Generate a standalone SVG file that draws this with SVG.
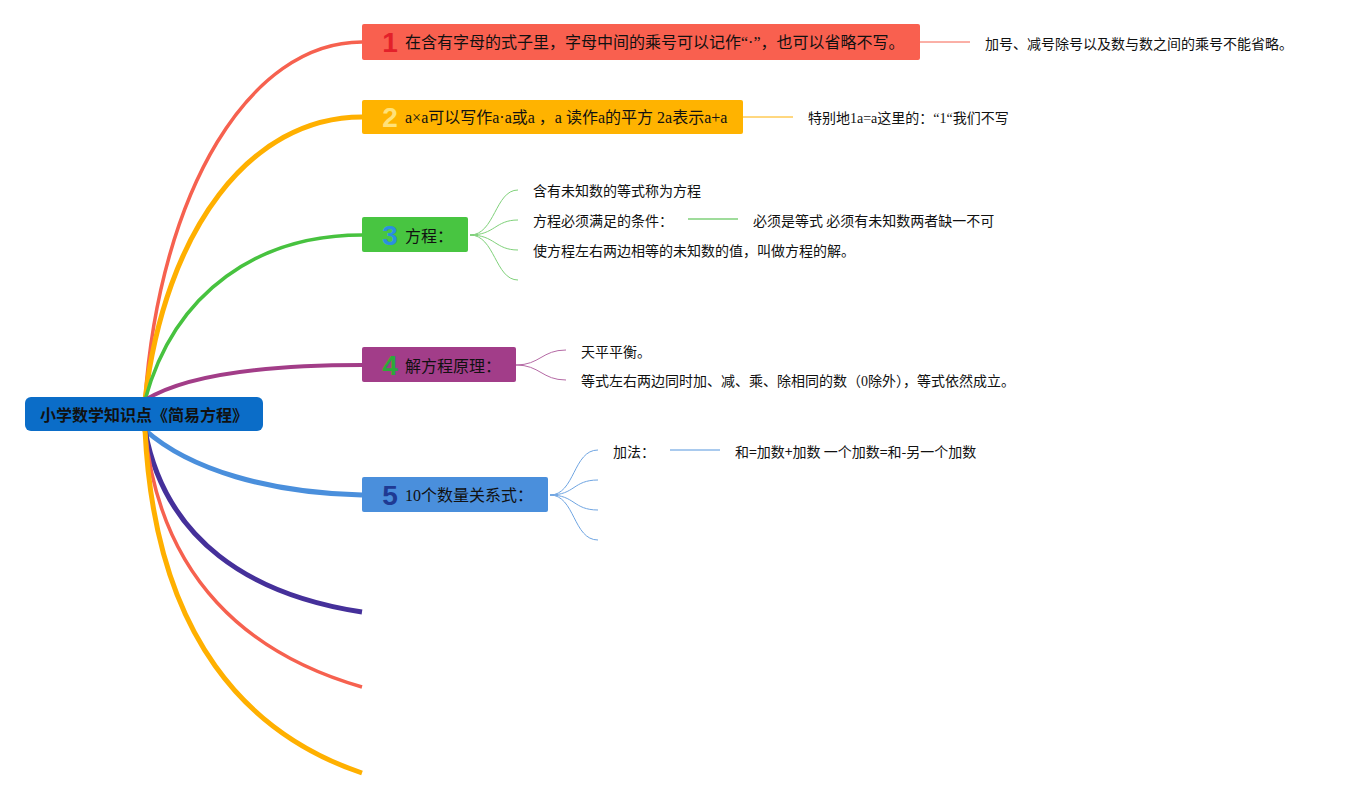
<svg xmlns="http://www.w3.org/2000/svg" width="1353" height="799" viewBox="0 0 1353 799">
<style>
.t{font-family:"Noto Sans CJK SC","Noto Sans",sans-serif;fill:#111;dominant-baseline:central}
.s{font-family:"Liberation Serif","Noto Sans CJK SC",serif;fill:#111;dominant-baseline:central}
.n16{font-size:16px}
.n14{font-size:14px}
.dg{font-family:"Liberation Sans","DejaVu Sans",sans-serif;font-weight:bold;font-size:28px;text-anchor:middle;dominant-baseline:central}
.br{fill:none;stroke-linecap:butt}
.th{fill:none;stroke-width:1}
</style>
<rect width="1353" height="799" fill="#ffffff"/>
<g id="connectors">
  <path class="br" d="M145,400 C160,190 250,42 362,42" stroke="#F6614F" stroke-width="3.5"/>
  <path class="br" d="M145,400 C165,230 250,117 362,117" stroke="#FFB000" stroke-width="5"/>
  <path class="br" d="M145,400 C175,290 260,235 362,235" stroke="#47C23F" stroke-width="3.5"/>
  <path class="br" d="M145,400 C190,372 280,365 362,365" stroke="#A23D88" stroke-width="4"/>
  <path class="br" d="M145,430 C190,470 270,493 362,495" stroke="#4A8FDC" stroke-width="5"/>
  <path class="br" d="M145,430 C165,540 250,595 362,612" stroke="#45309A" stroke-width="5"/>
  <path class="br" d="M145,430 C160,580 250,655 362,687" stroke="#F6614F" stroke-width="3.5"/>
  <path class="br" d="M145,430 C155,640 250,735 362,773" stroke="#FFB000" stroke-width="5"/>
  <line class="th" x1="920" y1="42" x2="970" y2="42" stroke="#F6614F"/>
  <line class="th" x1="743" y1="117" x2="793" y2="117" stroke="#FFB000"/>
  <path class="th" d="M470,235 C495,235 495,190 518,190" stroke="#7FD17A"/>
  <path class="th" d="M470,235 C495,235 495,220 518,220" stroke="#7FD17A"/>
  <path class="th" d="M470,235 C495,235 495,250 518,250" stroke="#7FD17A"/>
  <path class="th" d="M470,235 C495,235 495,280 518,280" stroke="#7FD17A"/>
  <line x1="688" y1="219" x2="738" y2="219" stroke="#7FD17A" stroke-width="1.5"/>
  <path class="th" d="M516,365 C540,365 542,350 566,350" stroke="#B56AA5"/>
  <path class="th" d="M516,365 C540,365 542,380 566,380" stroke="#B56AA5"/>
  <path class="th" d="M550,495 C575,495 573,450 598,450" stroke="#6FA5E2"/>
  <path class="th" d="M550,495 C575,495 573,480 598,480" stroke="#6FA5E2"/>
  <path class="th" d="M550,495 C575,495 573,510 598,510" stroke="#6FA5E2"/>
  <path class="th" d="M550,495 C575,495 573,540 598,540" stroke="#6FA5E2"/>
  <line x1="670" y1="450" x2="720" y2="450" stroke="#8DB8E8" stroke-width="1.5"/>
</g>
<g id="root">
  <rect x="25" y="397" width="238" height="34" rx="6" fill="#0B6DC8"/>
  <text class="t n16" x="144" y="414" text-anchor="middle" font-weight="bold">小学数学知识点《简易方程》</text>
</g>
<g id="node1">
  <rect x="362" y="24" width="558" height="36" rx="2" fill="#F9604F"/>
  <text class="dg" x="390" y="42" fill="#E3202A">1</text>
  <text class="s n16" x="405" y="42">在含有字母的式子里，字母中间的乘号可以记作“·”，也可以省略不写。</text>
</g>
<g id="node1a">
  <text class="t n14" x="985" y="43">加号、减号除号以及数与数之间的乘号不能省略。</text>
</g>
<g id="node2">
  <rect x="362" y="100" width="381" height="34" rx="2" fill="#FFB300"/>
  <text class="dg" x="390" y="117" fill="#FFE27A">2</text>
  <text class="s n16" x="405" y="117">a×a可以写作a·a或a ，a 读作a的平方 2a表示a+a</text>
</g>
<g id="node2a">
  <text class="s n14" x="808" y="118">特别地1a=a这里的：“1“我们不写</text>
</g>
<g id="node3">
  <rect x="362" y="217" width="106" height="35" rx="2" fill="#48C541"/>
  <text class="dg" x="390" y="235" fill="#2B8FE0">3</text>
  <text class="t n16" x="405" y="235">方程：</text>
</g>
<g id="node3a"><text class="t n14" x="533" y="190">含有未知数的等式称为方程</text></g>
<g id="node3b"><text class="t n14" x="533" y="220">方程必须满足的条件：</text></g>
<g id="node3b1"><text class="t n14" x="753" y="220">必须是等式 必须有未知数两者缺一不可</text></g>
<g id="node3c"><text class="t n14" x="533" y="250">使方程左右两边相等的未知数的值，叫做方程的解。</text></g>
<g id="node4">
  <rect x="362" y="347" width="154" height="35" rx="2" fill="#A23D89"/>
  <text class="dg" x="390" y="365" fill="#2DA83A">4</text>
  <text class="t n16" x="405" y="365">解方程原理：</text>
</g>
<g id="node4a"><text class="t n14" x="581" y="351">天平平衡。</text></g>
<g id="node4b"><text class="s n14" x="581" y="381">等式左右两边同时加、减、乘、除相同的数（0除外），等式依然成立。</text></g>
<g id="node5">
  <rect x="362" y="477" width="186" height="35" rx="2" fill="#4A8FDC"/>
  <text class="dg" x="390" y="495" fill="#1F3A93">5</text>
  <text class="s n16" x="405" y="495">10个数量关系式：</text>
</g>
<g id="node5a"><text class="t n14" x="613" y="451">加法：</text></g>
<g id="node5a1"><text class="t n14" x="735" y="451">和=加数+加数 一个加数=和-另一个加数</text></g>
</svg>
